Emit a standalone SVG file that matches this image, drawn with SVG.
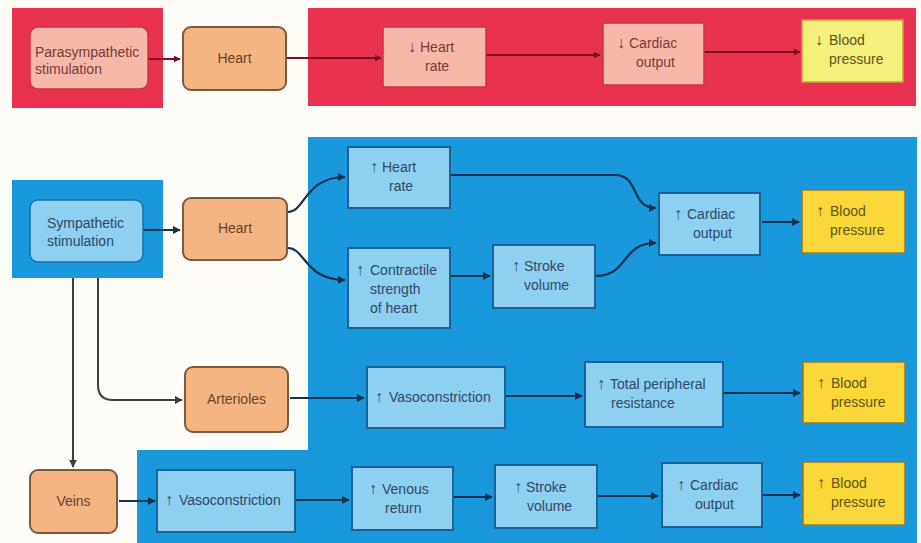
<svg xmlns="http://www.w3.org/2000/svg" width="921" height="543" viewBox="0 0 921 543">
<defs>
<style>
text{font-family:"Liberation Sans",Arial,sans-serif;font-size:14px}
.pk{fill:#f7b8aa;stroke:#c9324a;stroke-width:1.5}
.or{fill:#f5b583;stroke:#7a5a40;stroke-width:2}
.ylt{fill:#f4f07c;stroke:#c9a23a;stroke-width:1.5}
.lb{fill:#8ed0f2;stroke:#17639a;stroke-width:2}
.yl{fill:#fbd73a;stroke:#9a7a20;stroke-width:1.5}
.tp{fill:#7a3b38}
.to{fill:#6b4424}
.tb{fill:#2e4a62}
.ty{fill:#5e5520}
.ar{font-size:16px}
.cr{fill:none;stroke:#7a1020;stroke-width:2}
.cb{fill:none;stroke:#14324f;stroke-width:2.2}
.cg{fill:none;stroke:#3d3d3d;stroke-width:2}
</style>
<marker id="ar" viewBox="0 0 10 10" refX="9" refY="5" markerWidth="7" markerHeight="7" markerUnits="userSpaceOnUse" orient="auto"><path d="M0,0L10,5L0,10z" fill="#7a1020"/></marker>
<marker id="ab" viewBox="0 0 10 10" refX="9" refY="5" markerWidth="8" markerHeight="8" markerUnits="userSpaceOnUse" orient="auto"><path d="M0,0L10,5L0,10z" fill="#14324f"/></marker>
<marker id="ag" viewBox="0 0 10 10" refX="9" refY="5" markerWidth="8" markerHeight="8" markerUnits="userSpaceOnUse" orient="auto"><path d="M0,0L10,5L0,10z" fill="#3d3d3d"/></marker>
</defs>
<rect width="921" height="543" fill="#fdfcf7"/>
<g id="backgrounds">
<rect x="12" y="8" width="151" height="100" fill="#e8314f"/>
<rect x="308" y="8" width="608" height="98" fill="#e8314f"/>
<rect x="12" y="180" width="151" height="98" fill="#1a98dc"/>
<path d="M308,137H917V543H137V450H308Z" fill="#1a98dc"/>
</g>
<g id="connectors">
<path class="cr" d="M148,59H180" marker-end="url(#ar)"/>
<path class="cr" d="M287,58H381" marker-end="url(#ar)"/>
<path class="cr" d="M486,55H600" marker-end="url(#ar)"/>
<path class="cr" d="M704,52H800" marker-end="url(#ar)"/>
<path class="cb" d="M143,230H180" marker-end="url(#ab)"/>
<path class="cb" d="M288,212C305,212 305,177 345,177" marker-end="url(#ab)"/>
<path class="cb" d="M288,248C305,248 305,280 345,280" marker-end="url(#ab)"/>
<path class="cb" d="M450,175H615C640,175 630,208 656,208" marker-end="url(#ab)"/>
<path class="cb" d="M450,276H490" marker-end="url(#ab)"/>
<path class="cb" d="M595,276C630,276 620,243 656,243" marker-end="url(#ab)"/>
<path class="cb" d="M762,222H799" marker-end="url(#ab)"/>
<path class="cg" d="M73,278V467" marker-end="url(#ag)"/>
<path class="cg" d="M98,278V385Q98,400 113,400H182" marker-end="url(#ag)"/>
<path class="cb" d="M290,398H364" marker-end="url(#ab)"/>
<path class="cb" d="M506,396H582" marker-end="url(#ab)"/>
<path class="cb" d="M724,393H800" marker-end="url(#ab)"/>
<path class="cb" d="M119,501H155" marker-end="url(#ab)"/>
<path class="cb" d="M296,500H349" marker-end="url(#ab)"/>
<path class="cb" d="M453,497H492" marker-end="url(#ab)"/>
<path class="cb" d="M597,496H658" marker-end="url(#ab)"/>
<path class="cb" d="M762,495H800" marker-end="url(#ab)"/>
</g>
<g id="parasympathetic">
<rect class="pk" x="30" y="27" width="118" height="62" rx="8"/>
<text class="tp" x="35" y="57">Parasympathetic</text>
<text class="tp" x="35" y="74">stimulation</text>
</g>
<g id="heart-top">
<rect class="or" x="183" y="27" width="103" height="63" rx="8"/>
<text class="to" x="234.5" y="63" text-anchor="middle">Heart</text>
</g>
<g id="heart-rate-down">
<rect class="pk" x="383" y="27" width="103" height="60"/>
<text class="tp ar" x="408" y="52">↓</text><text class="tp" x="420" y="52">Heart</text>
<text class="tp" x="425" y="71">rate</text>
</g>
<g id="cardiac-output-down">
<rect class="pk" x="603" y="23" width="101" height="62"/>
<text class="tp ar" x="617" y="48">↓</text><text class="tp" x="629" y="48">Cardiac</text>
<text class="tp" x="636" y="67">output</text>
</g>
<g id="bp-down">
<rect class="ylt" x="802" y="20" width="101" height="62"/>
<text class="ty ar" x="815" y="45">↓</text><text class="ty" x="829" y="45">Blood</text>
<text class="ty" x="829" y="64">pressure</text>
</g>
<g id="sympathetic">
<rect x="30" y="200" width="113" height="62" rx="8" fill="#8ed0f2" stroke="#1470aa" stroke-width="1.5"/>
<text class="tb" x="47" y="228">Sympathetic</text>
<text class="tb" x="47" y="246">stimulation</text>
</g>
<g id="heart-mid">
<rect class="or" x="183" y="198" width="104" height="62" rx="8"/>
<text class="to" x="235" y="233" text-anchor="middle">Heart</text>
</g>
<g id="heart-rate-up">
<rect class="lb" x="348" y="147" width="102" height="61"/>
<text class="tb ar" x="370" y="172">↑</text><text class="tb" x="382" y="172">Heart</text>
<text class="tb" x="389" y="191">rate</text>
</g>
<g id="contractile">
<rect class="lb" x="348" y="248" width="102" height="80"/>
<text class="tb ar" x="356" y="275">↑</text><text class="tb" x="370" y="275">Contractile</text>
<text class="tb" x="370" y="294">strength</text>
<text class="tb" x="370" y="313">of heart</text>
</g>
<g id="stroke-volume-mid">
<rect class="lb" x="493" y="245" width="102" height="63"/>
<text class="tb ar" x="512" y="271">↑</text><text class="tb" x="524" y="271">Stroke</text>
<text class="tb" x="524" y="290">volume</text>
</g>
<g id="cardiac-output-mid">
<rect class="lb" x="659" y="193" width="101" height="62"/>
<text class="tb ar" x="674" y="219">↑</text><text class="tb" x="687" y="219">Cardiac</text>
<text class="tb" x="693" y="238">output</text>
</g>
<g id="bp-mid">
<rect class="yl" x="802" y="190" width="103" height="63"/>
<text class="ty ar" x="816" y="216">↑</text><text class="ty" x="830" y="216">Blood</text>
<text class="ty" x="830" y="235">pressure</text>
</g>
<g id="arterioles">
<rect class="or" x="185" y="367" width="103" height="65" rx="8"/>
<text class="to" x="236.5" y="404" text-anchor="middle">Arterioles</text>
</g>
<g id="vasoconstriction-arterioles">
<rect class="lb" x="367" y="367" width="138" height="61"/>
<text class="tb ar" x="375" y="402">↑</text><text class="tb" x="389" y="402">Vasoconstriction</text>
</g>
<g id="tpr">
<rect class="lb" x="585" y="362" width="138" height="65"/>
<text class="tb ar" x="597" y="389">↑</text><text class="tb" x="610" y="389">Total peripheral</text>
<text class="tb" x="611" y="408">resistance</text>
</g>
<g id="bp-arterioles">
<rect class="yl" x="803" y="362" width="102" height="61"/>
<text class="ty ar" x="817" y="388">↑</text><text class="ty" x="831" y="388">Blood</text>
<text class="ty" x="831" y="407">pressure</text>
</g>
<g id="veins">
<rect class="or" x="30" y="470" width="87" height="63" rx="8"/>
<text class="to" x="73.5" y="506" text-anchor="middle">Veins</text>
</g>
<g id="vasoconstriction-veins">
<rect class="lb" x="157" y="470" width="138" height="62"/>
<text class="tb ar" x="165" y="505">↑</text><text class="tb" x="179" y="505">Vasoconstriction</text>
</g>
<g id="venous-return">
<rect class="lb" x="352" y="467" width="101" height="63"/>
<text class="tb ar" x="369" y="494">↑</text><text class="tb" x="382" y="494">Venous</text>
<text class="tb" x="385" y="513">return</text>
</g>
<g id="stroke-volume-bottom">
<rect class="lb" x="495" y="465" width="102" height="63"/>
<text class="tb ar" x="514" y="492">↑</text><text class="tb" x="526" y="492">Stroke</text>
<text class="tb" x="527" y="511">volume</text>
</g>
<g id="cardiac-output-bottom">
<rect class="lb" x="662" y="463" width="100" height="64"/>
<text class="tb ar" x="677" y="490">↑</text><text class="tb" x="690" y="490">Cardiac</text>
<text class="tb" x="695" y="509">output</text>
</g>
<g id="bp-bottom">
<rect class="yl" x="803" y="462" width="102" height="63"/>
<text class="ty ar" x="817" y="488">↑</text><text class="ty" x="831" y="488">Blood</text>
<text class="ty" x="831" y="507">pressure</text>
</g>
</svg>
